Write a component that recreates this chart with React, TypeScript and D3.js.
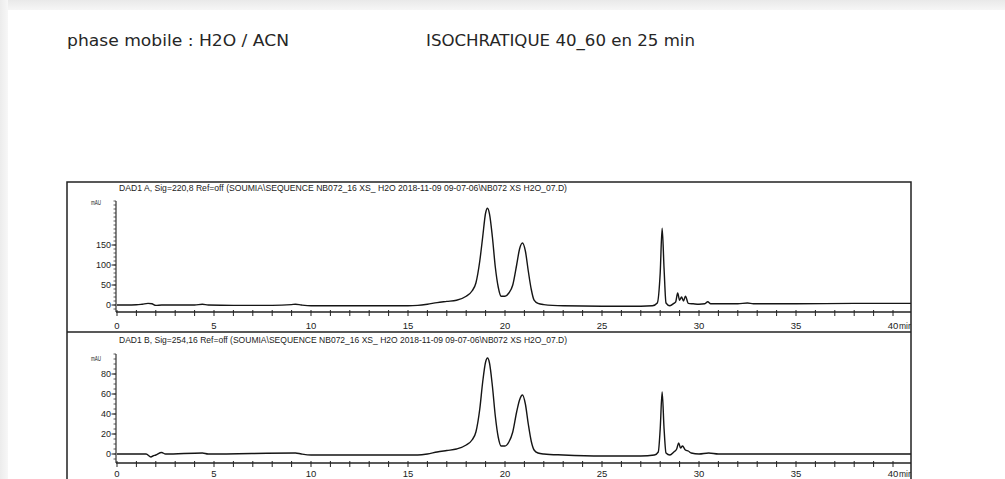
import React from "react";
import * as d3 from "d3";

const titleLeft = "phase mobile : H2O / ACN";
const titleRight = "ISOCHRATIQUE 40_60 en 25 min";
const headerA = "DAD1 A, Sig=220,8 Ref=off (SOUMIA\\SEQUENCE NB072_16 XS_ H2O 2018-11-09 09-07-06\\NB072 XS H2O_07.D)";
const headerB = "DAD1 B, Sig=254,16 Ref=off (SOUMIA\\SEQUENCE NB072_16 XS_ H2O 2018-11-09 09-07-06\\NB072 XS H2O_07.D)";

const xTickLabels = [0, 5, 10, 15, 20, 25, 30, 35, 40];
const yTicksA = [0, 50, 100, 150];
const yTicksB = [0, 20, 40, 60, 80];

const timesA = [0, 0.5, 1.0, 1.3, 1.6, 1.8, 2.0, 2.3, 3.0, 4.0, 4.4, 4.7, 6.0, 8.0, 9.0, 9.2, 9.5, 10.0, 12.0, 14.0, 15.0, 15.5, 16.0, 16.5, 17.0, 17.5, 18.0, 18.3, 18.5, 18.7, 18.85, 19.0, 19.1, 19.2, 19.35, 19.5, 19.65, 19.8, 20.0, 20.2, 20.4, 20.6, 20.75, 20.9, 21.05, 21.2, 21.35, 21.5, 21.7, 22.0, 23.0, 25.0, 27.0, 27.6, 27.85, 28.0, 28.1, 28.2, 28.3, 28.5, 28.7, 28.8, 28.9, 29.0, 29.1, 29.2, 29.3, 29.45, 29.7, 30.0, 30.3, 30.45, 30.6, 31.0, 32.0, 32.5, 32.8, 35.0, 38.0, 40.0, 41.0];
const valuesA = [0, 0, 0.5, 2, 4, 3, -1, 0, 0, 0, 2, 0, -1, -1, 1, 2, 0, -2, -2, -2, -2, -1, 2, 6, 9, 12, 22, 35, 55, 110, 170, 230, 242, 228, 170, 95, 45, 22, 22, 30, 50, 100, 140, 155, 135, 85, 40, 12, 4, 1, -2, -3, -3, -2, 5, 80, 192, 90, 5, -2, 4, 8, 30, 12, 20, 10, 22, 4, 3, 2, 3, 8, 3, 3, 3, 5, 3, 3, 4, 4, 4];

const timesB = [0, 1.0, 1.5, 1.75, 1.85, 2.0, 2.3, 2.5, 4.4, 4.7, 9.2, 9.5, 10, 15.5, 16, 16.5, 17, 17.5, 18, 18.3, 18.5, 18.7, 18.85, 19.0, 19.1, 19.2, 19.35, 19.5, 19.65, 19.8, 20.0, 20.2, 20.4, 20.6, 20.75, 20.9, 21.05, 21.2, 21.35, 21.5, 21.7, 22.0, 23.0, 25.0, 27.0, 27.7, 27.9, 28.0, 28.1, 28.2, 28.3, 28.5, 28.7, 28.85, 28.95, 29.05, 29.15, 29.3, 29.45, 29.6, 30, 30.5, 31, 35, 40, 41];
const valuesB = [0, 0, 0, -3, -2, -1, 1.5, 0, 1, 0, 1, 0, -1, -1, 0, 2, 3.5, 5, 9, 14, 22, 45, 72, 92, 96, 91, 68, 38, 17, 8, 8, 12, 22, 42, 54, 59, 50, 30, 13, 4, 1, 0, -1, -2, -2, -1, 2, 25, 62, 25, 1, -1, 2, 5, 11, 6, 8, 4, 3, 1, 0, 1, 0, 0, 0, 0];

const FONT_T = "'DejaVu Sans Condensed', 'Liberation Sans Narrow', 'DejaVu Sans', sans-serif";
const FONT_C = "'Liberation Sans Narrow', 'Liberation Sans', Arial, sans-serif";

const x = d3.scaleLinear().domain([0, 40]).range([117, 893]);
const xMax = 911;

type PanelProps = {
  header: string;
  headerY: number;
  times: number[];
  values: number[];
  y: d3.ScaleLinear<number, number>;
  yTicks: number[];
  minorStep: number;
  yMin: number;
  yMax: number;
  axisY: number;
  unitY: number;
  labelDy: number;
};

function Panel(p: PanelProps) {
  const pts: [number, number][] = p.times.map((t, i) => [t, p.values[i]]);
  const line = d3
    .line<[number, number]>()
    .x((d) => Math.min(x(d[0]), xMax))
    .y((d) => p.y(d[1]))
    .curve(d3.curveMonotoneX);
  const minor = d3.range(p.yMin, p.yMax + 0.001, p.minorStep);
  const topY = p.y(p.yMax);
  const minuteTicks = d3.range(0, 41, 1);
  return (
    <g>
      <text x={119} y={p.headerY} fontFamily={FONT_C} fontSize={9.5} fill="#222" textLength={448} lengthAdjust="spacingAndGlyphs">
        {p.header}
      </text>
      <text x={91} y={p.unitY} fontFamily={FONT_C} fontSize={7.5} fill="#222" textLength={10} lengthAdjust="spacingAndGlyphs">mAU</text>
      <line x1={116} x2={116} y1={topY} y2={p.axisY} stroke="#222" strokeWidth={1.1} />
      {minor.map((v) => (
        <line key={"m" + v} x1={113.5} x2={116} y1={p.y(v)} y2={p.y(v)} stroke="#333" strokeWidth={0.8} />
      ))}
      {p.yTicks.map((v) => (
        <g key={"t" + v}>
          <line x1={111.5} x2={116} y1={p.y(v)} y2={p.y(v)} stroke="#222" strokeWidth={1} />
          <text x={111} y={p.y(v) + 3} textAnchor="end" fontFamily={FONT_C} fontSize={9} fill="#222">
            {v}
          </text>
        </g>
      ))}
      <line x1={116} x2={xMax} y1={p.axisY} y2={p.axisY} stroke="#222" strokeWidth={1.3} />
      {minuteTicks.map((t) => (
        <line key={"x" + t} x1={x(t)} x2={x(t)} y1={p.axisY - 2} y2={p.axisY + 4} stroke="#222" strokeWidth={1} />
      ))}
      {xTickLabels.map((t) => (
        <text key={"xl" + t} x={x(t)} y={p.axisY + p.labelDy} textAnchor="middle" fontFamily={FONT_C} fontSize={9.5} fill="#222">
          {t}
        </text>
      ))}
      <text x={x(40) + 6} y={p.axisY + p.labelDy} fontFamily={FONT_C} fontSize={8.5} fill="#222">min</text>
      <path d={line(pts) || ""} fill="none" stroke="#151515" strokeWidth={1.4} strokeLinejoin="round" />
    </g>
  );
}

export default function App() {
  const yA = d3.scaleLinear().domain([0, 150]).range([305, 245]);
  const yB = d3.scaleLinear().domain([0, 80]).range([454, 374]);
  return (
    <svg width={1005} height={479} style={{ position: "absolute", left: 0, top: 0 }} xmlns="http://www.w3.org/2000/svg">
      <defs>
        <linearGradient id="topShade" x1="0" y1="0" x2="0" y2="1">
          <stop offset="0" stopColor="#e9e9e9" />
          <stop offset="1" stopColor="#f6f6f6" />
        </linearGradient>
        <linearGradient id="leftShade" x1="0" y1="0" x2="1" y2="0">
          <stop offset="0" stopColor="#ececec" />
          <stop offset="1" stopColor="#f7f7f7" />
        </linearGradient>
        <clipPath id="boxClip">
          <rect x={67} y={182} width={844} height={300} />
        </clipPath>
      </defs>
      <rect x={0} y={0} width={1005} height={479} fill="#ffffff" />
      <rect x={0} y={0} width={1005} height={10} fill="url(#topShade)" />
      <rect x={0} y={0} width={8} height={479} fill="url(#leftShade)" />

      <text x={67} y={46} fontFamily={FONT_T} fontSize={15.5} fill="#262626" textLength={222} lengthAdjust="spacingAndGlyphs">
        {titleLeft}
      </text>
      <text x={426} y={46} fontFamily={FONT_T} fontSize={15.5} fill="#262626" textLength={269} lengthAdjust="spacingAndGlyphs">
        {titleRight}
      </text>

      <g clipPath="url(#boxClip)">
        <Panel header={headerA} headerY={191} times={timesA} values={valuesA} y={yA} yTicks={yTicksA} minorStep={10} yMin={-10} yMax={260} axisY={312} unitY={205} labelDy={17} />
        <Panel header={headerB} headerY={343} times={timesB} values={valuesB} y={yB} yTicks={yTicksB} minorStep={5} yMin={-5} yMax={100} axisY={463} unitY={361} labelDy={14} />
      </g>

      <rect x={67} y={182} width={844} height={320} fill="none" stroke="#222" strokeWidth={1.5} />
      <line x1={67} x2={911} y1={332} y2={332} stroke="#222" strokeWidth={1.5} />
    </svg>
  );
}
